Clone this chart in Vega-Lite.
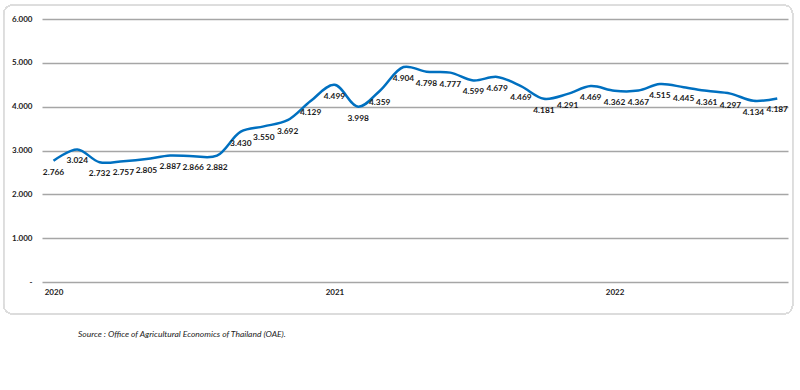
{
  "$schema": "https://vega.github.io/schema/vega-lite/v6.json",
  "width": 746,
  "height": 263,
  "autosize": {"type": "none"},
  "padding": {"left": 42, "top": 19, "right": 12, "bottom": 108},
  "background": "white",
  "config": {
    "locale": {"number": {"decimal": ",", "thousands": ".", "grouping": [3], "currency": ["", ""]}},
    "view": {"stroke": null},
    "font": "Lato",
    "axis": {"labelFont": "Lato", "labelFontWeight": "bold", "labelFontSize": 8, "labelColor": "#222222", "title": null}
  },
  "title": {
    "text": "Source : Office of Agricultural Economics of Thailand (OAE).",
    "orient": "bottom",
    "anchor": "start",
    "frame": "group",
    "dx": 36,
    "offset": 16,
    "font": "Lato",
    "fontStyle": "italic",
    "fontWeight": "normal",
    "fontSize": 8.5,
    "color": "#222222"
  },
  "data": {
    "values": [
      {"date": "2020-01-01", "value": 2766},
      {"date": "2020-02-01", "value": 3024},
      {"date": "2020-03-01", "value": 2732},
      {"date": "2020-04-01", "value": 2757},
      {"date": "2020-05-01", "value": 2805},
      {"date": "2020-06-01", "value": 2887},
      {"date": "2020-07-01", "value": 2866},
      {"date": "2020-08-01", "value": 2882},
      {"date": "2020-09-01", "value": 3430},
      {"date": "2020-10-01", "value": 3550},
      {"date": "2020-11-01", "value": 3692},
      {"date": "2020-12-01", "value": 4129},
      {"date": "2021-01-01", "value": 4499},
      {"date": "2021-02-01", "value": 3998},
      {"date": "2021-03-01", "value": 4359},
      {"date": "2021-04-01", "value": 4904},
      {"date": "2021-05-01", "value": 4798},
      {"date": "2021-06-01", "value": 4777},
      {"date": "2021-07-01", "value": 4599},
      {"date": "2021-08-01", "value": 4679},
      {"date": "2021-09-01", "value": 4469},
      {"date": "2021-10-01", "value": 4181},
      {"date": "2021-11-01", "value": 4291},
      {"date": "2021-12-01", "value": 4469},
      {"date": "2022-01-01", "value": 4362},
      {"date": "2022-02-01", "value": 4367},
      {"date": "2022-03-01", "value": 4515},
      {"date": "2022-04-01", "value": 4445},
      {"date": "2022-05-01", "value": 4361},
      {"date": "2022-06-01", "value": 4297},
      {"date": "2022-07-01", "value": 4134},
      {"date": "2022-08-01", "value": 4187}
    ]
  },
  "layer": [
    {
      "mark": {"type": "rect", "fill": "transparent", "stroke": "#dddddd", "strokeWidth": 1, "cornerRadius": 9, "clip": false},
      "encoding": {
        "x": {"datum": {"year": 2019, "month": 10, "date": 28}, "type": "temporal"},
        "x2": {"datum": {"year": 2022, "month": 8, "date": 21}},
        "y": {"datum": 6319, "type": "quantitative"},
        "y2": {"datum": -730}
      }
    },
    {
      "mark": {"type": "line", "color": "#0070C0", "strokeWidth": 2.5, "interpolate": "catmull-rom"},
      "encoding": {
        "x": {
          "field": "date",
          "type": "temporal",
          "scale": {"domain": [{"year": 2019, "month": 12, "date": 17}, {"year": 2022, "month": 8, "date": 15}]},
          "axis": {
            "values": [{"year": 2020, "month": 1, "date": 1}, {"year": 2021, "month": 1, "date": 1}, {"year": 2022, "month": 1, "date": 1}],
            "format": "%Y",
            "grid": false,
            "domain": false,
            "ticks": false,
            "tickSize": 0,
            "labelPadding": 6
          }
        },
        "y": {
          "field": "value",
          "type": "quantitative",
          "scale": {"domain": [0, 6000], "nice": false},
          "axis": {
            "values": [0, 1000, 2000, 3000, 4000, 5000, 6000],
            "labelExpr": "datum.value == 0 ? '-\u00a0\u00a0' : format(datum.value, ',')",
            "grid": true,
            "gridColor": "#a6a6a6",
            "gridWidth": 1.3,
            "domain": false,
            "ticks": false,
            "tickSize": 0,
            "labelPadding": 10
          }
        }
      }
    },
    {
      "mark": {"type": "text", "dy": 11, "font": "Lato", "fontWeight": "bold", "fontSize": 8.4, "color": "#1a1a1a"},
      "encoding": {
        "x": {"field": "date", "type": "temporal"},
        "y": {"field": "value", "type": "quantitative"},
        "text": {"field": "value", "type": "quantitative", "format": ",.0f", "formatType": "number"}
      }
    }
  ]
}
